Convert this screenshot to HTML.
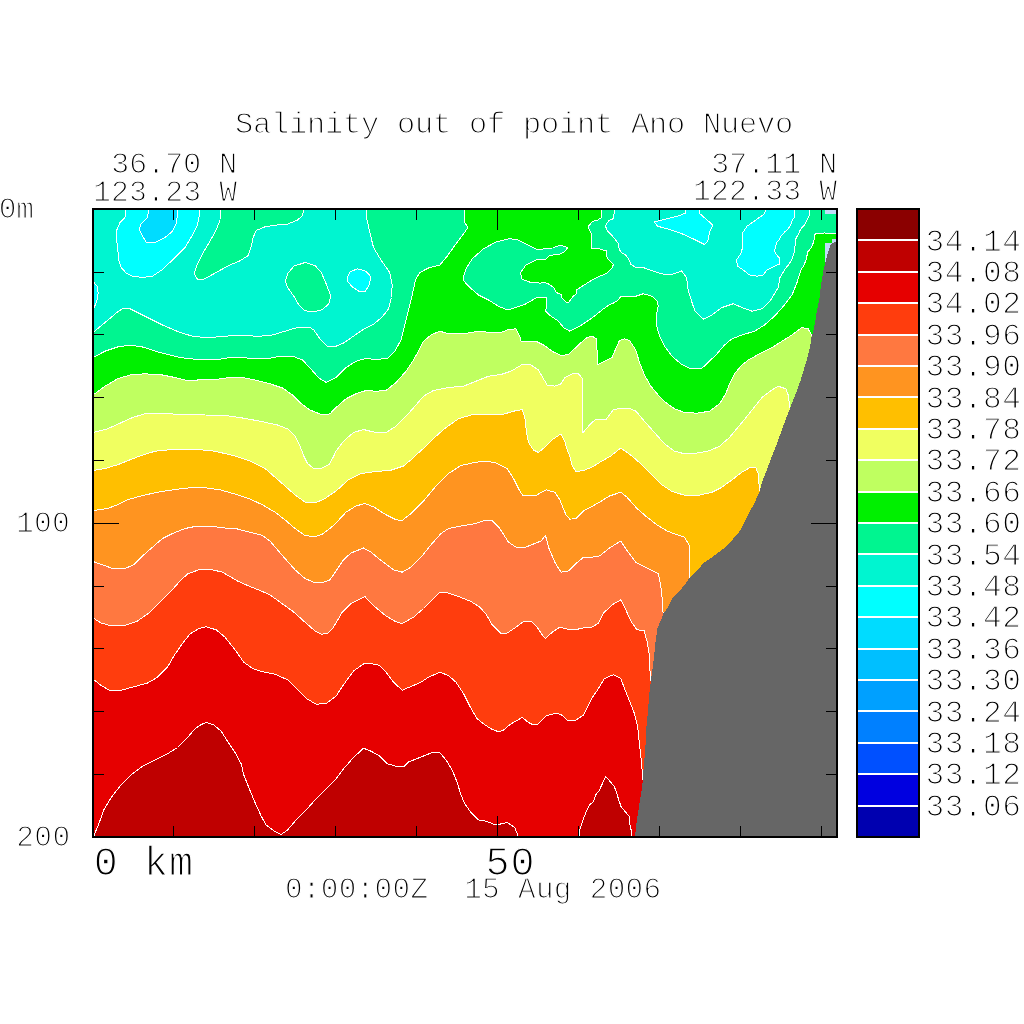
<!DOCTYPE html>
<html lang="en"><head><meta charset="utf-8"><title>Salinity out of point Ano Nuevo</title>
<style>
html,body{margin:0;padding:0;background:#fff;}
body{width:1024px;height:1024px;overflow:hidden;}
svg{display:block;}
</style></head><body>
<svg width="1024" height="1024" viewBox="0 0 1024 1024">
<rect width="1024" height="1024" fill="#fff"/>
<clipPath id="pc"><rect x="93" y="209" width="744" height="628"/></clipPath>
<g clip-path="url(#pc)">
<rect x="80" y="200" width="780" height="660" fill="#00f590"/>
<polygon points="70.0,332.5 93.0,332.5 105.0,322.5 117.5,312.0 123.8,308.0 130.0,308.8 145.0,316.2 162.5,325.0 180.0,332.5 192.5,336.2 205.0,337.5 220.0,336.8 232.5,335.5 245.0,335.8 260.0,336.2 272.5,335.0 285.0,331.2 297.5,327.5 310.0,327.5 313.8,330.0 320.0,338.8 327.5,346.2 336.0,346.2 343.5,343.0 353.5,336.2 363.5,329.2 373.5,324.2 382.2,317.0 388.5,308.8 391.5,297.5 392.2,285.0 389.8,272.5 381.0,260.0 373.5,247.5 369.8,232.5 366.5,217.5 366.5,209.0 366.5,190.0 70.0,190.0" fill="#00f5d0" stroke="#fff" stroke-width="1" stroke-linejoin="round" shape-rendering="crispEdges"/>
<polygon points="614.7,190.0 614.7,209.0 613.4,218.7 608.8,220.4 605.4,226.0 607.4,230.9 612.3,235.8 618.1,243.1 618.9,248.0 620.6,251.9 625.9,255.3 628.4,258.7 630.8,264.1 635.2,267.3 644.5,268.0 657.0,272.5 667.0,275.0 674.5,273.8 681.5,270.8 686.5,277.5 688.2,290.0 692.0,302.5 695.0,311.2 703.2,319.2 712.0,315.0 722.0,307.5 733.2,303.8 742.0,307.5 752.0,311.2 762.0,308.8 770.8,300.0 778.2,287.5 780.0,277.5 783.4,272.0 785.1,268.9 788.7,264.7 791.8,259.8 793.9,253.4 794.6,248.5 795.5,243.6 795.7,239.0 798.5,233.8 800.6,229.2 804.8,224.6 807.6,219.0 809.6,215.1 809.6,209.0 809.6,190.0" fill="#00f5d0" stroke="#fff" stroke-width="1" stroke-linejoin="round" shape-rendering="crispEdges"/>
<polygon points="220.5,190.0 220.5,209.0 220.0,220.0 216.2,230.0 210.0,241.2 202.5,253.8 197.5,263.8 194.2,273.2 197.5,279.5 202.5,280.0 212.5,274.5 228.8,265.5 240.0,260.8 248.2,255.5 251.2,246.2 253.2,237.5 256.2,230.5 265.0,226.8 277.5,225.0 287.5,224.2 297.5,220.0 302.5,215.5 303.8,209.0 303.8,190.0" fill="#00f590" stroke="#fff" stroke-width="1" stroke-linejoin="round" shape-rendering="crispEdges"/>
<polygon points="285.5,281.2 287.5,273.8 293.8,266.2 305.0,262.5 315.0,265.5 321.2,272.5 326.2,283.8 330.8,296.2 328.8,303.8 322.5,309.5 313.8,311.8 305.0,310.8 298.8,305.0 293.8,296.2 287.5,287.5" fill="#00f590" stroke="#fff" stroke-width="1" stroke-linejoin="round" shape-rendering="crispEdges"/>
<polygon points="125.8,190.0 125.8,209.0 125.0,217.5 120.0,222.5 116.8,230.0 117.0,242.5 118.8,260.0 121.2,267.5 126.2,273.0 132.5,276.2 142.5,277.5 152.5,276.2 162.5,269.5 175.0,257.5 185.0,247.5 192.5,235.0 197.5,225.0 199.5,215.0 199.5,209.0 199.5,190.0" fill="#00ffff" stroke="#fff" stroke-width="1" stroke-linejoin="round" shape-rendering="crispEdges"/>
<polygon points="654.5,222.0 667.0,218.8 679.5,215.5 685.8,213.0 685.8,209.0 699.5,209.0 700.0,213.8 707.0,220.0 712.8,225.0 709.5,232.5 707.8,241.2 704.5,244.5 694.5,239.5 682.0,233.8 667.0,228.8 657.5,226.2" fill="#00ffff" stroke="#fff" stroke-width="1" stroke-linejoin="round" shape-rendering="crispEdges"/>
<polygon points="765.8,190.0 765.8,209.0 764.5,213.8 755.8,220.0 747.0,226.2 742.8,232.5 742.8,245.0 741.5,252.5 736.5,260.0 737.5,266.2 743.2,270.0 749.5,275.0 757.0,276.2 763.2,275.0 767.0,270.0 774.5,266.2 779.5,264.0 779.2,257.7 776.0,254.1 774.5,251.2 776.7,242.5 779.5,239.4 781.6,235.2 785.1,231.6 788.3,228.8 791.1,223.9 792.5,219.7 794.6,217.6 794.6,209.0 794.6,190.0" fill="#00ffff" stroke="#fff" stroke-width="1" stroke-linejoin="round" shape-rendering="crispEdges"/>
<polygon points="70.0,281.2 93.0,281.2 97.0,286.2 98.2,292.5 97.0,300.0 94.5,307.0 93.0,308.0 70.0,308.0" fill="#00ffff" stroke="#fff" stroke-width="1" stroke-linejoin="round" shape-rendering="crispEdges"/>
<polygon points="347.2,277.5 349.8,272.0 357.2,268.8 366.0,271.2 371.0,277.0 369.0,285.0 365.5,291.2 359.8,291.8 352.2,286.8 348.0,282.0" fill="#00ffff" stroke="#fff" stroke-width="1" stroke-linejoin="round" shape-rendering="crispEdges"/>
<polygon points="148.8,190.0 148.8,209.0 147.5,217.5 141.2,223.8 139.2,229.5 142.5,236.2 146.2,242.0 155.0,242.5 165.0,237.5 172.5,231.2 176.2,223.8 177.5,215.0 177.5,209.0 177.5,190.0" fill="#00dcff" stroke="#fff" stroke-width="1" stroke-linejoin="round" shape-rendering="crispEdges"/>
<polygon points="70.0,357.5 93.0,357.5 105.0,351.2 117.5,347.0 130.0,345.0 142.5,347.0 160.0,352.5 180.0,357.5 195.0,359.2 210.0,359.5 220.0,359.2 230.0,357.5 242.5,357.5 255.0,358.8 270.0,358.2 280.0,356.2 292.5,356.2 302.5,360.0 310.0,368.0 318.8,378.0 326.2,382.5 336.0,377.5 346.0,367.5 356.0,361.2 364.8,358.8 376.0,359.2 387.2,358.8 394.8,351.2 401.0,340.0 404.8,325.0 408.5,310.0 412.2,295.0 415.5,280.0 419.8,272.5 428.5,268.0 439.8,265.0 447.2,256.2 456.0,243.8 463.5,233.8 468.0,227.5 464.0,221.2 464.8,209.0 464.8,190.0 601.5,190.0 601.5,209.0 601.5,217.7 597.6,220.1 592.2,221.6 588.3,226.5 589.8,230.9 591.3,233.3 591.3,248.0 598.6,248.5 603.5,250.1 606.4,250.9 606.6,255.8 608.4,259.7 613.4,264.4 611.8,268.5 607.4,272.9 598.6,276.8 591.8,280.2 583.9,285.1 576.6,290.0 576.1,293.9 573.2,296.3 568.3,302.7 566.4,302.2 561.5,297.3 561.0,294.4 556.1,292.4 553.7,287.5 548.8,284.1 545.4,282.6 540.0,283.1 531.0,282.5 522.2,279.5 520.5,272.5 526.0,265.0 536.0,260.0 545.9,259.2 549.3,255.8 553.7,254.8 559.5,254.3 563.4,252.4 565.9,250.4 567.6,247.5 564.4,246.5 560.5,245.3 556.1,246.5 552.7,248.0 544.9,248.5 540.0,249.9 536.0,249.2 526.0,243.8 516.0,239.2 508.5,238.8 496.0,242.0 483.5,248.8 472.2,258.8 466.0,268.8 463.5,276.2 464.0,281.2 469.8,287.5 478.5,295.0 488.5,300.0 498.5,306.2 507.2,310.0 516.0,307.5 526.0,303.8 536.0,298.0 546.8,297.3 546.8,305.0 545.5,311.2 551.0,316.2 558.5,321.2 563.5,327.5 569.8,331.2 579.8,326.2 592.0,318.0 602.0,310.0 608.8,305.0 614.2,302.7 618.1,300.2 620.6,296.8 634.7,296.6 643.2,293.8 652.0,296.2 657.5,301.2 658.2,306.2 656.5,315.0 656.5,325.0 659.5,336.2 664.5,346.2 672.0,356.2 680.8,363.8 689.5,368.2 702.0,368.2 709.5,361.2 717.0,353.8 724.5,345.0 732.0,338.8 742.0,335.0 754.5,331.2 764.5,325.0 774.5,316.2 784.5,305.0 792.0,295.0 797.0,282.5 800.3,272.0 800.6,270.3 803.4,266.1 805.9,260.5 806.9,256.2 807.6,252.0 811.2,247.8 813.3,242.9 814.3,238.7 814.5,235.2 816.0,233.4 823.5,233.4 824.4,232.3 825.2,233.4 837.0,233.4 860.0,233.4 860.0,860.0 70.0,860.0" fill="#00f000" stroke="#fff" stroke-width="1" stroke-linejoin="round" shape-rendering="crispEdges"/>
<polygon points="70.0,395.0 93.0,395.0 105.0,386.2 117.5,378.8 130.0,375.0 145.0,373.8 162.5,375.0 175.0,377.5 185.0,380.0 197.5,380.0 215.0,379.5 230.0,377.5 242.5,377.5 255.0,380.0 270.0,383.8 282.5,388.0 292.5,395.0 300.0,402.5 310.0,410.0 322.5,415.0 330.0,413.8 336.0,407.5 346.0,398.8 356.0,393.8 366.0,390.5 376.0,391.2 386.0,390.5 396.0,382.5 406.0,371.2 413.5,360.0 419.8,348.8 423.5,341.2 431.0,335.0 439.8,331.2 448.5,333.8 463.5,333.8 478.5,331.2 491.0,332.5 501.0,332.5 508.5,329.5 516.0,328.8 519.8,336.2 521.0,341.2 528.5,341.8 536.0,341.2 543.5,345.0 553.5,352.0 561.0,355.5 568.5,354.5 578.5,345.0 586.0,338.2 592.0,336.0 596.5,338.8 597.0,350.0 597.5,365.0 604.5,361.2 612.0,357.5 615.8,348.8 619.5,340.5 624.5,338.8 629.5,340.5 635.8,350.0 639.5,362.5 644.5,375.0 650.8,386.2 658.2,395.0 665.8,402.5 674.5,408.8 684.5,412.5 697.0,413.2 709.5,411.2 719.5,403.8 725.8,393.8 729.5,383.8 734.5,373.8 742.0,365.0 748.2,360.0 759.5,353.8 772.0,347.5 782.0,341.2 792.0,335.0 802.0,327.5 808.2,328.8 812.0,336.2 837.0,336.2 860.0,336.2 860.0,860.0 70.0,860.0" fill="#bfff60" stroke="#fff" stroke-width="1" stroke-linejoin="round" shape-rendering="crispEdges"/>
<polygon points="70.0,432.5 93.0,432.5 107.5,428.8 120.0,423.2 132.5,417.5 145.0,413.8 160.0,413.0 180.0,414.5 205.0,415.0 225.0,415.5 242.5,418.0 260.0,421.2 277.5,425.0 287.5,428.8 295.0,436.2 300.0,446.2 303.8,456.0 307.5,463.5 313.8,468.5 321.2,468.5 328.8,464.8 333.8,456.0 336.0,451.2 343.5,441.2 353.5,432.5 363.5,429.5 373.5,432.0 386.0,432.5 396.0,426.2 406.0,416.2 416.0,405.0 423.5,396.2 433.5,390.5 448.5,387.5 463.5,386.2 476.0,381.2 488.5,376.2 501.0,374.5 511.0,371.2 522.2,364.5 531.0,365.0 538.5,370.0 543.5,378.8 547.2,385.0 554.8,386.2 561.0,383.8 564.8,377.5 572.2,373.8 578.5,373.8 582.3,378.5 582.6,400.0 582.8,433.0 586.0,429.0 590.6,423.8 595.3,419.8 606.2,419.4 613.3,409.7 621.9,408.1 629.7,408.4 635.9,411.2 645.3,422.2 654.5,432.5 664.5,443.8 674.5,451.2 684.5,453.8 697.0,453.0 709.5,450.8 719.5,446.2 729.5,437.5 742.0,422.5 752.0,410.0 762.0,397.5 772.0,390.0 778.2,386.2 785.8,388.8 788.2,395.0 790.0,407.5 837.0,407.5 860.0,407.5 860.0,860.0 70.0,860.0" fill="#f0ff60" stroke="#fff" stroke-width="1" stroke-linejoin="round" shape-rendering="crispEdges"/>
<polygon points="70.0,470.5 93.0,470.5 105.0,468.5 117.5,464.8 130.0,459.8 140.0,456.0 155.0,451.2 175.0,449.2 195.0,449.2 215.0,451.2 235.0,456.0 250.0,461.0 265.0,468.5 275.0,477.2 285.0,486.0 295.0,494.8 305.0,502.2 315.0,503.0 325.0,498.5 336.0,491.0 348.5,479.8 361.0,473.5 376.0,471.5 391.0,470.2 403.5,466.0 411.0,459.8 414.8,456.0 426.0,446.2 436.0,436.2 446.0,427.5 458.5,418.8 471.0,415.0 486.0,414.5 501.0,415.0 513.5,411.2 522.2,409.5 524.8,417.5 526.5,432.5 528.5,442.5 533.5,450.0 538.5,452.5 546.0,446.2 553.5,438.8 561.0,433.8 564.8,441.2 567.2,450.0 569.8,456.0 572.2,466.0 576.0,471.5 583.5,470.5 592.0,467.2 602.0,461.0 610.8,456.0 620.8,448.0 632.0,456.0 642.0,464.8 652.0,474.8 662.0,484.8 672.0,491.5 684.5,495.2 699.5,495.2 712.0,492.2 722.0,487.2 732.0,479.8 742.0,472.2 749.5,467.8 755.8,467.8 758.2,473.5 759.0,483.5 759.5,491.0 837.0,491.0 860.0,491.0 860.0,860.0 70.0,860.0" fill="#ffbf00" stroke="#fff" stroke-width="1" stroke-linejoin="round" shape-rendering="crispEdges"/>
<polygon points="70.0,510.5 93.0,510.5 107.5,508.5 117.5,504.8 127.5,499.8 142.5,495.5 160.0,491.8 177.5,489.2 192.5,487.5 205.0,487.8 220.0,489.8 235.0,494.0 250.0,499.0 262.5,504.8 275.0,512.2 285.0,519.8 295.0,528.5 305.0,535.5 315.0,536.8 322.5,534.0 330.0,528.5 336.0,523.0 346.0,512.2 356.0,506.0 364.8,503.5 373.5,506.8 386.0,514.8 396.0,519.8 402.2,520.5 411.0,513.5 423.5,501.0 436.0,486.0 448.5,473.5 461.0,465.5 476.0,462.2 486.0,461.0 496.0,463.0 507.2,468.5 513.5,478.5 519.8,491.0 523.0,495.5 536.0,495.5 546.0,489.8 554.8,492.2 559.8,499.8 566.0,514.8 569.8,519.2 576.0,518.5 583.5,511.0 592.0,506.5 599.5,502.2 609.5,496.0 620.8,492.2 627.0,497.2 637.0,508.5 647.0,517.2 657.0,524.8 667.0,531.0 677.0,534.8 684.5,537.2 689.0,544.8 689.5,561.0 689.5,578.5 837.0,578.5 860.0,578.5 860.0,860.0 70.0,860.0" fill="#ff9420" stroke="#fff" stroke-width="1" stroke-linejoin="round" shape-rendering="crispEdges"/>
<polygon points="70.0,561.5 93.0,561.5 102.5,564.8 112.5,568.5 125.0,568.5 133.8,564.8 142.5,556.0 152.5,547.2 162.5,538.5 172.5,533.5 185.0,528.5 197.5,526.0 210.0,526.0 222.5,527.8 237.5,529.0 250.0,532.2 262.5,535.5 270.0,541.0 277.5,549.8 285.0,558.5 295.0,569.8 305.0,578.5 315.0,582.8 323.8,582.2 330.0,579.8 336.0,571.0 343.5,559.8 351.0,553.0 363.5,548.0 371.0,552.2 381.0,560.5 393.5,569.8 402.2,572.2 411.0,567.2 421.0,557.2 431.0,544.8 441.0,533.5 448.5,528.5 461.0,526.0 473.5,524.0 486.0,520.2 492.2,520.5 499.8,528.5 508.5,542.2 516.0,547.2 523.5,548.0 533.5,544.0 541.0,541.0 545.5,535.5 548.5,547.2 554.8,562.2 561.0,572.2 568.5,571.0 576.0,563.5 583.5,557.2 592.0,557.2 599.5,556.0 609.5,548.0 620.8,541.0 628.2,552.2 635.8,562.2 647.0,568.0 658.2,573.5 660.8,586.0 662.5,601.0 663.2,616.0 837.0,616.0 860.0,616.0 860.0,860.0 70.0,860.0" fill="#ff7840" stroke="#fff" stroke-width="1" stroke-linejoin="round" shape-rendering="crispEdges"/>
<polygon points="70.0,618.0 93.0,618.0 101.2,623.0 110.0,625.5 125.0,625.5 137.5,621.0 150.0,612.2 160.0,602.2 170.0,592.2 180.0,581.0 187.5,574.0 198.8,569.8 210.0,569.2 222.5,572.2 237.5,581.0 250.0,586.5 260.0,590.5 270.0,594.8 280.0,602.2 292.5,611.0 305.0,622.2 315.0,631.0 321.2,634.2 327.5,633.5 332.5,628.5 336.0,623.0 342.2,612.2 351.0,603.5 364.8,596.5 373.5,605.5 386.0,616.0 396.0,621.8 402.2,623.5 413.5,617.2 423.5,608.5 433.5,598.5 439.8,592.2 447.2,592.8 458.5,596.5 471.0,601.5 479.8,607.2 486.0,614.0 492.2,624.8 501.0,633.5 507.2,633.0 516.0,627.2 523.5,621.5 531.0,621.0 537.2,627.2 542.2,634.8 545.5,638.5 552.2,632.2 559.8,627.2 567.2,629.0 578.5,629.0 586.0,627.2 592.0,627.0 598.2,623.5 603.2,613.5 612.0,604.8 620.8,599.8 625.8,609.8 630.8,621.0 637.0,629.8 644.0,630.5 647.0,641.0 649.5,656.0 650.0,671.0 650.8,681.0 837.0,681.0 860.0,681.0 860.0,860.0 70.0,860.0" fill="#ff3d0d" stroke="#fff" stroke-width="1" stroke-linejoin="round" shape-rendering="crispEdges"/>
<polygon points="70.0,679.0 93.0,679.0 101.2,685.5 110.0,690.5 120.0,690.5 132.5,687.2 147.5,683.0 157.5,677.2 167.5,667.2 173.8,656.0 182.5,643.5 190.0,634.0 198.8,628.5 206.2,626.8 216.2,629.8 225.0,637.2 235.0,649.8 243.8,662.2 252.5,668.5 262.5,671.8 275.0,674.2 287.5,679.8 297.5,689.8 307.5,699.2 316.2,704.2 326.2,703.5 336.0,696.2 343.5,684.8 353.5,671.0 363.5,664.0 371.0,663.5 379.8,665.5 386.0,672.2 393.5,682.2 402.2,690.2 411.0,686.5 421.0,682.2 428.5,677.2 439.8,672.2 448.5,675.5 456.0,682.2 463.5,693.5 469.8,706.0 473.0,712.0 477.2,718.8 483.5,723.8 491.0,728.8 498.5,731.8 503.5,730.0 511.0,723.8 522.2,717.5 528.5,722.5 533.5,725.0 538.5,723.8 546.0,715.8 556.0,713.2 561.0,714.5 567.2,720.0 576.0,720.0 583.5,715.0 588.5,705.0 592.0,698.0 598.2,689.0 604.5,678.5 613.2,674.8 620.8,678.5 624.5,688.5 629.5,701.0 634.5,713.8 637.8,727.5 639.5,745.0 641.5,762.5 642.8,780.0 837.0,780.0 860.0,780.0 860.0,860.0 70.0,860.0" fill="#e60000" stroke="#fff" stroke-width="1" stroke-linejoin="round" shape-rendering="crispEdges"/>
<polygon points="93.0,860.0 93.0,837.0 94.0,835.5 98.8,823.8 103.8,810.0 111.2,797.5 120.0,786.2 132.5,773.8 142.5,766.2 155.0,760.0 167.5,753.8 177.5,747.5 187.5,737.5 195.0,728.8 201.2,724.5 206.2,722.5 213.8,725.0 221.2,731.2 227.5,741.2 235.0,752.5 241.2,763.8 243.8,775.0 248.8,787.5 255.0,802.5 261.2,816.2 266.2,825.0 273.8,830.8 281.2,834.5 287.5,830.0 295.0,821.2 305.0,811.2 315.0,800.0 325.0,790.0 336.0,779.0 343.5,768.8 353.5,757.5 363.5,748.2 371.0,751.2 379.8,756.2 387.2,763.8 396.0,766.2 403.5,766.8 408.5,762.0 421.0,757.0 432.2,752.5 439.8,752.5 446.0,760.0 452.2,770.0 457.2,782.5 461.0,795.0 464.8,803.8 471.0,812.5 478.5,820.0 486.0,821.2 496.0,825.0 507.2,822.5 514.8,827.5 518.5,837.0 518.5,860.0" fill="#bf0000" stroke="#fff" stroke-width="1" stroke-linejoin="round" shape-rendering="crispEdges"/>
<polygon points="579.0,860.0 579.0,837.0 579.3,832.4 579.9,829.2 582.0,822.7 585.2,814.1 589.5,805.0 593.8,801.2 595.4,795.3 599.2,790.5 605.7,776.5 613.7,785.7 615.9,790.5 618.5,799.1 621.2,807.1 629.3,816.3 629.8,823.8 631.4,831.3 631.4,837.0 631.4,860.0" fill="#bf0000" stroke="#fff" stroke-width="1" stroke-linejoin="round" shape-rendering="crispEdges"/>
<rect x="825" y="209" width="13" height="5" fill="#c0dcf8" shape-rendering="crispEdges"/>
<polygon points="825,243 832,243 832,239 838,239 838,272 825,272" fill="#c0dcf8" shape-rendering="crispEdges"/>
<polygon points="837.0,241.5 836.0,241.8 832.2,243.2 830.1,245.7 828.7,250.6 827.0,256.2 825.2,263.3 823.1,272.0 821.0,285.0 819.3,300.0 817.3,308.6 815.2,321.5 813.0,332.2 811.4,337.6 809.8,348.3 806.6,360.2 803.4,370.9 800.2,381.6 795.9,393.5 793.1,400.0 790.2,408.2 785.5,419.9 780.8,432.8 776.1,445.7 771.4,457.4 766.7,470.3 762.0,482.0 759.7,491.4 755.8,500.0 750.3,510.9 746.2,519.1 742.1,527.3 738.0,533.5 731.2,541.0 724.3,547.9 717.5,553.3 710.7,558.1 703.8,562.9 698.4,569.0 689.5,577.9 684.7,584.8 679.2,591.6 672.4,598.4 668.3,606.6 663.5,613.5 660.8,620.3 657.3,629.0 655.5,641.7 653.8,659.3 651.4,676.9 649.6,690.9 647.9,712.0 646.1,730.8 645.9,740.0 644.9,752.9 643.8,766.9 642.5,783.0 641.1,793.7 639.0,806.6 636.8,820.6 635.0,837.0 837.0,837.0 860.0,860.0 860.0,241.5" fill="#666" shape-rendering="crispEdges"/>
<path d="M173.6 209 v11 M173.6 837 v-11 M93 272.1 h11 M837 272.1 h-11 M254.6 209 v11 M254.6 837 v-11 M93 334.9 h11 M837 334.9 h-11 M335.5 209 v11 M335.5 837 v-11 M93 397.7 h11 M837 397.7 h-11 M416.5 209 v11 M416.5 837 v-11 M93 460.5 h11 M837 460.5 h-11 M497.5 209 v21 M497.5 837 v-21 M93 523.3 h26 M837 523.3 h-26 M578.5 209 v11 M578.5 837 v-11 M93 586.1 h11 M837 586.1 h-11 M659.5 209 v11 M659.5 837 v-11 M93 648.9 h11 M837 648.9 h-11 M740.4 209 v11 M740.4 837 v-11 M93 711.7 h11 M837 711.7 h-11 M821.4 209 v11 M821.4 837 v-11 M93 774.5 h11 M837 774.5 h-11" stroke="#000" stroke-width="1" fill="none" shape-rendering="crispEdges"/>
</g>
<rect x="93" y="209" width="744" height="628" fill="none" stroke="#000" stroke-width="2" shape-rendering="crispEdges"/>
<rect x="857" y="209.00" width="62" height="31.90" fill="#8b0000"/>
<rect x="857" y="240.40" width="62" height="31.90" fill="#bf0000"/>
<rect x="857" y="271.80" width="62" height="31.90" fill="#e60000"/>
<rect x="857" y="303.20" width="62" height="31.90" fill="#ff3d0d"/>
<rect x="857" y="334.60" width="62" height="31.90" fill="#ff7840"/>
<rect x="857" y="366.00" width="62" height="31.90" fill="#ff9420"/>
<rect x="857" y="397.40" width="62" height="31.90" fill="#ffbf00"/>
<rect x="857" y="428.80" width="62" height="31.90" fill="#f0ff60"/>
<rect x="857" y="460.20" width="62" height="31.90" fill="#bfff60"/>
<rect x="857" y="491.60" width="62" height="31.90" fill="#00f000"/>
<rect x="857" y="523.00" width="62" height="31.90" fill="#00f590"/>
<rect x="857" y="554.40" width="62" height="31.90" fill="#00f5d0"/>
<rect x="857" y="585.80" width="62" height="31.90" fill="#00ffff"/>
<rect x="857" y="617.20" width="62" height="31.90" fill="#00dcff"/>
<rect x="857" y="648.60" width="62" height="31.90" fill="#00bfff"/>
<rect x="857" y="680.00" width="62" height="31.90" fill="#00a0ff"/>
<rect x="857" y="711.40" width="62" height="31.90" fill="#0080ff"/>
<rect x="857" y="742.80" width="62" height="31.90" fill="#0050ff"/>
<rect x="857" y="774.20" width="62" height="31.90" fill="#0000e0"/>
<rect x="857" y="805.60" width="62" height="31.90" fill="#0000b0"/>
<path d="M857 240 H919 M857 272 H919 M857 303 H919 M857 335 H919 M857 366 H919 M857 397 H919 M857 429 H919 M857 460 H919 M857 492 H919 M857 523 H919 M857 554 H919 M857 586 H919 M857 617 H919 M857 649 H919 M857 680 H919 M857 711 H919 M857 743 H919 M857 774 H919 M857 806 H919" stroke="#fff" stroke-width="2" fill="none" shape-rendering="crispEdges"/>
<rect x="857" y="209" width="62" height="628" fill="none" stroke="#000" stroke-width="2" shape-rendering="crispEdges"/>
<g font-family='"Liberation Mono", "DejaVu Sans Mono", monospace' fill="#000" stroke="#fff" stroke-width="1.25" paint-order="fill stroke"><text x="235.08" y="132.70" font-size="30.40" letter-spacing="-0.24" xml:space="preserve" style="white-space:pre">Salinity out of point Ano Nuevo</text>
<text x="110.88" y="172.70" font-size="30.40" letter-spacing="-0.21" xml:space="preserve" style="white-space:pre">36.70 N</text>
<text x="93.06" y="200.60" font-size="29.79" letter-spacing="0.15" xml:space="preserve" style="white-space:pre">123.23 W</text>
<text x="710.88" y="172.60" font-size="30.40" letter-spacing="-0.21" xml:space="preserve" style="white-space:pre">37.11 N</text>
<text x="693.06" y="200.40" font-size="29.79" letter-spacing="0.15" xml:space="preserve" style="white-space:pre">122.33 W</text>
<text x="-1.25" y="218.00" font-size="29.49" letter-spacing="-0.10" xml:space="preserve" style="white-space:pre">0m</text>
<text x="16.11" y="532.10" font-size="29.64" letter-spacing="0.21" xml:space="preserve" style="white-space:pre">100</text>
<text x="16.15" y="846.20" font-size="29.49" letter-spacing="0.50" xml:space="preserve" style="white-space:pre">200</text>
<text x="93.77" y="875.40" font-size="40.09" letter-spacing="1.01" xml:space="preserve" style="white-space:pre">0 km</text>
<text x="485.47" y="875.40" font-size="40.09" letter-spacing="0.94" xml:space="preserve" style="white-space:pre">50</text>
<text x="284.90" y="897.50" font-size="29.34" letter-spacing="0.33" xml:space="preserve" style="white-space:pre">0:00:00Z  15 Aug 2006</text>
<text x="925.55" y="250.50" font-size="31.16" letter-spacing="0.45" xml:space="preserve" style="white-space:pre">34.14</text>
<text x="925.55" y="281.90" font-size="31.16" letter-spacing="0.45" xml:space="preserve" style="white-space:pre">34.08</text>
<text x="925.55" y="313.30" font-size="31.16" letter-spacing="0.45" xml:space="preserve" style="white-space:pre">34.02</text>
<text x="925.55" y="344.70" font-size="31.16" letter-spacing="0.45" xml:space="preserve" style="white-space:pre">33.96</text>
<text x="925.55" y="376.10" font-size="31.16" letter-spacing="0.45" xml:space="preserve" style="white-space:pre">33.90</text>
<text x="925.55" y="407.50" font-size="31.16" letter-spacing="0.45" xml:space="preserve" style="white-space:pre">33.84</text>
<text x="925.55" y="438.90" font-size="31.16" letter-spacing="0.45" xml:space="preserve" style="white-space:pre">33.78</text>
<text x="925.55" y="470.30" font-size="31.16" letter-spacing="0.45" xml:space="preserve" style="white-space:pre">33.72</text>
<text x="925.55" y="501.70" font-size="31.16" letter-spacing="0.45" xml:space="preserve" style="white-space:pre">33.66</text>
<text x="925.55" y="533.10" font-size="31.16" letter-spacing="0.45" xml:space="preserve" style="white-space:pre">33.60</text>
<text x="925.55" y="564.50" font-size="31.16" letter-spacing="0.45" xml:space="preserve" style="white-space:pre">33.54</text>
<text x="925.55" y="595.90" font-size="31.16" letter-spacing="0.45" xml:space="preserve" style="white-space:pre">33.48</text>
<text x="925.55" y="627.30" font-size="31.16" letter-spacing="0.45" xml:space="preserve" style="white-space:pre">33.42</text>
<text x="925.55" y="658.70" font-size="31.16" letter-spacing="0.45" xml:space="preserve" style="white-space:pre">33.36</text>
<text x="925.55" y="690.10" font-size="31.16" letter-spacing="0.45" xml:space="preserve" style="white-space:pre">33.30</text>
<text x="925.55" y="721.50" font-size="31.16" letter-spacing="0.45" xml:space="preserve" style="white-space:pre">33.24</text>
<text x="925.55" y="752.90" font-size="31.16" letter-spacing="0.45" xml:space="preserve" style="white-space:pre">33.18</text>
<text x="925.55" y="784.30" font-size="31.16" letter-spacing="0.45" xml:space="preserve" style="white-space:pre">33.12</text>
<text x="925.55" y="815.70" font-size="31.16" letter-spacing="0.45" xml:space="preserve" style="white-space:pre">33.06</text></g>
</svg>
</body></html>
